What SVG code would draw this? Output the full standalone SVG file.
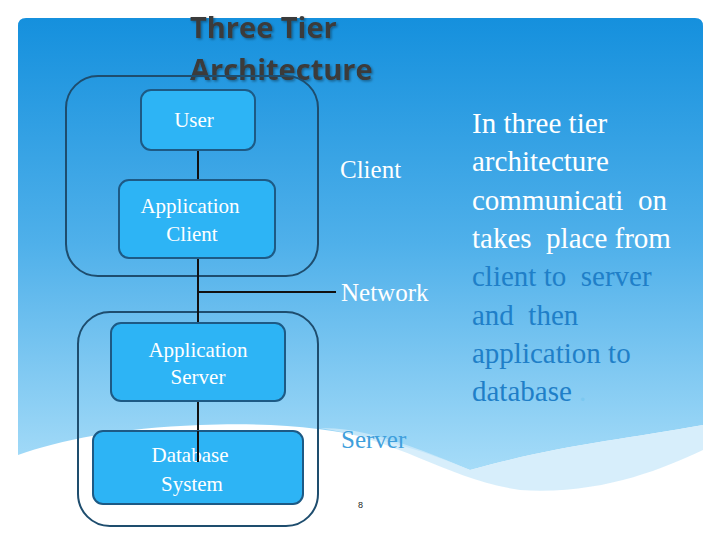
<svg xmlns="http://www.w3.org/2000/svg" width="720" height="540" viewBox="0 0 720 540">
<defs>
<linearGradient id="bg" x1="0" y1="0" x2="0" y2="1">
<stop offset="0" stop-color="#1590dd"/><stop offset="0.5" stop-color="#4fb0ea"/><stop offset="1" stop-color="#a6dcf8"/>
</linearGradient>
<filter id="sh"><feDropShadow dx="1.5" dy="1.5" stdDeviation="1" flood-color="#000" flood-opacity="0.35"/></filter>
</defs>
<style>
.box{fill:#2db4f5;stroke:#1d5a85;stroke-width:2}
.cont{fill:none;stroke:#1e4d6e;stroke-width:2}
.lbl{font-size:21px;fill:#fff;text-anchor:middle}
.side{font-size:25px;fill:#fff}
.ln{stroke:#111;stroke-width:2;fill:none}
</style>
<rect width="720" height="540" fill="#fff"/>
<path d="M18,26 Q18,18 26,18 L695,18 Q703,18 703,26 L703,425 C620,440 560,445 470,470 C400,440 320,420 200,425 C120,428 60,440 18,455 Z" fill="url(#bg)"/>
<path d="M320,428 C400,440 450,480 520,490 C600,495 660,470 703,450 L703,425 C620,440 560,445 470,470 C400,440 360,428 320,428 Z" fill="#cdeafa" opacity="0.8"/>
<g id="title" font-family="'Open Sans','Liberation Sans',sans-serif" font-weight="bold" font-size="29" fill="#3b3b3b" filter="url(#sh)">
<text x="190" y="38">Three Tier</text><text x="190" y="80">Architecture</text>
</g>
<g id="client-tier"><rect class="cont" x="66" y="76" width="252" height="200" rx="32"/></g>
<g id="server-tier"><rect class="cont" x="78" y="312" width="240" height="214" rx="32"/></g>
<g id="connectors">
<path class="ln" d="M198,150 V180 M198,258 V323 M198,292 H336 M198,401 V462"/>
</g>
<g font-family="'Liberation Serif','DejaVu Serif',serif">
<g id="user"><rect class="box" x="141" y="90" width="114" height="60" rx="10"/><text class="lbl" x="194" y="127">User</text></g>
<g id="app-client"><rect class="box" x="119" y="180" width="156" height="78" rx="10"/><text class="lbl" x="190" y="213">Application</text><text class="lbl" x="192" y="241">Client</text></g>
<g id="app-server"><rect class="box" x="111" y="323" width="174" height="78" rx="10"/><text class="lbl" x="198" y="357">Application</text><text class="lbl" x="198" y="384">Server</text></g>
<g id="database"><rect class="box" x="93" y="431" width="210" height="73" rx="10"/><text class="lbl" x="190" y="462">Database</text><text class="lbl" x="192" y="491">System</text></g>
<path class="ln" d="M198,431 V462"/>
<text class="side" x="340" y="178">Client</text>
<text class="side" x="341" y="301">Network</text>
<text class="side" x="341" y="448" style="fill:#3f9fdc">Server</text>
<g font-size="29">
<text x="472" y="133" fill="#fff">In three tier</text>
<text x="472" y="171" fill="#fff">architecture</text>
<text x="472" y="210" fill="#fff" xml:space="preserve">communicati  on</text>
<text x="472" y="248" fill="#fff" xml:space="preserve">takes  place from</text>
<text x="472" y="286" fill="#1f7fc8" xml:space="preserve">client to  server</text>
<text x="472" y="325" fill="#1f7fc8" xml:space="preserve">and  then</text>
<text x="472" y="363" fill="#1f7fc8">application to</text>
<text x="472" y="401" fill="#1f7fc8">database <tspan fill="#7cc8f0">.</tspan></text>
</g>
</g>
<text x="358" y="508" font-family="'Liberation Sans',sans-serif" font-size="9" fill="#222">8</text>
</svg>
